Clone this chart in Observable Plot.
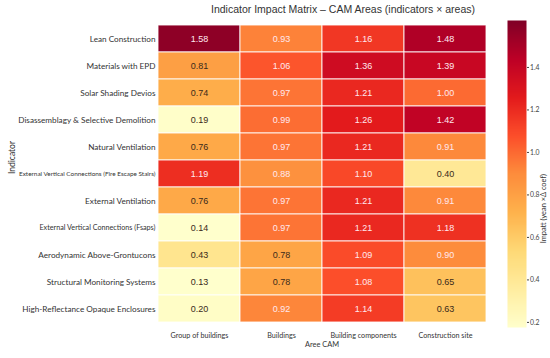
<!DOCTYPE html>
<html>
<head>
<meta charset="utf-8">
<script src="https://cdn.jsdelivr.net/npm/d3@7"></script>
<script src="https://cdn.jsdelivr.net/npm/@observablehq/plot@0.6"></script>
<style>
  body { margin: 0; background: #fff; }
  #wrap { position: relative; width: 550px; height: 358px; font-family: "Liberation Sans", Arial, sans-serif; }
  #title { position: absolute; left: 0; width: 686px; top: 3px; text-align: center; font-size: 10.5px; color: #333; white-space: nowrap; }
  #main { position: absolute; left: 0; top: 0; }
  #bar { position: absolute; left: 500px; top: 0; }
</style>
</head>
<body>
<div id="wrap">
  <div id="main"></div>
  <div id="bar"></div>
  <div id="title">Indicator Impact Matrix – CAM Areas (indicators × areas)</div>
</div>
<script>
const indicators = [
  "Lean Construction",
  "Materials with EPD",
  "Solar Shading Devios",
  "Disassemblagy & Selective Demolition",
  "Natural Ventilation",
  "External Vertical Connections (Fire Escape Stairs)",
  "External Ventilation",
  "External Vertical Connections (Fsaps)",
  "Aerodynamic Above-Grontucons",
  "Structural Monitoring Systems",
  "High-Reflectance Opaque Enclosures"
];
const areas = ["Group of buildings", "Buildings", "Building components", "Construction site"];
const groupOfBuildings = [1.58, 0.81, 0.74, 0.19, 0.76, 1.19, 0.76, 0.14, 0.43, 0.13, 0.20];
const buildings = [0.93, 1.06, 0.97, 0.99, 0.97, 0.88, 0.97, 0.97, 0.78, 0.78, 0.92];
const buildingComponents = [1.16, 1.36, 1.21, 1.26, 1.21, 1.10, 1.21, 1.21, 1.09, 1.08, 1.14];
const constructionSite = [1.48, 1.39, 1.00, 1.42, 0.91, 0.40, 0.91, 1.18, 0.90, 0.65, 0.63];
const colorbarTicks = [0.2, 0.4, 0.6, 0.8, 1.0, 1.2, 1.4];
const ylorrdStops = ["#ffffcc", "#ffeda0", "#fed976", "#feb24c", "#fd8d3c", "#fc4e2a", "#e31a1c", "#bd0026", "#800026"];

const series = [groupOfBuildings, buildings, buildingComponents, constructionSite];
const table = [];
indicators.forEach((ind, i) => {
  areas.forEach((a, j) => table.push({indicator: ind, area: a, value: series[j][i]}));
});
const labelSizes = indicators.map(d => d.includes("Fire Escape") ? 6.4 : d.includes("Fsaps") ? 7.2 : 8.2);
const rowLabels = indicators.map((d, i) => ({indicator: d, size: labelSizes[i]}));

const colorDomain = [0.176, 1.621];
const stopDomain = ylorrdStops.map((c, i) => colorDomain[0] + (colorDomain[1] - colorDomain[0]) * i / (ylorrdStops.length - 1));
const color = {type: "linear", domain: stopDomain, range: ylorrdStops, interpolate: "rgb", clamp: true};

const main = Plot.plot({
  width: 490, height: 358,
  marginLeft: 157, marginRight: 4, marginTop: 20, marginBottom: 31,
  style: {fontFamily: "Lato, 'Liberation Sans', sans-serif", fontSize: "8px", color: "#333", background: "transparent"},
  x: {domain: areas, padding: 0, label: null},
  y: {domain: indicators, padding: 0, label: null},
  color,
  marks: [
    Plot.cell(table, {x: "area", y: "indicator", fill: "value", stroke: "#fff", strokeOpacity: 0.85, strokeWidth: 1, inset: 0}),
    Plot.text(table, {x: "area", y: "indicator", text: d => d.value.toFixed(2), fill: d => d.value > 0.87 ? "#ffe8ee" : "#3a2a1a", fontSize: 9, fontFamily: "'Liberation Sans', Arial, sans-serif"}),
    Plot.axisX({tickSize: 0, tickPadding: 5, fontSize: 7.2, label: null}),
    Plot.axisY({ticks: [], tickSize: 0, label: null}),
    Plot.text(rowLabels, {y: "indicator", text: "indicator", frameAnchor: "left", textAnchor: "end", dx: -2, fontSize: "size", fill: "#333"}),
    Plot.text(["Aree CAM"], {frameAnchor: "bottom", dy: 19, fontSize: 7.4, fill: "#333"}),
    Plot.text(["Indicator"], {frameAnchor: "left", rotate: -90, dx: -145, fontSize: 8.5, fill: "#333"})
  ]
});
document.getElementById("main").append(main);

const bar = Plot.plot({
  width: 50, height: 358,
  marginLeft: 7, marginRight: 24, marginTop: 20, marginBottom: 31,
  style: {fontFamily: "Lato, 'Liberation Sans', sans-serif", fontSize: "6.8px", color: "#444", background: "transparent"},
  x: {domain: [0, 1], axis: null},
  y: {domain: colorDomain, label: null},
  color,
  marks: [
    Plot.raster({x1: 0, x2: 1, y1: colorDomain[0], y2: colorDomain[1], width: 1, height: 300, fill: (x, y) => y, imageRendering: "auto"}),
    Plot.axisY({anchor: "right", ticks: colorbarTicks, tickSize: 2, tickPadding: 1.5, tickFormat: d => d.toFixed(1), label: null}),
    Plot.text(["Impatt (yean ×Δ coef)"], {frameAnchor: "right", rotate: -90, dx: 17, fontSize: 7.4, fill: "#333"})
  ]
});
document.getElementById("bar").append(bar);
</script>
</body>
</html>
